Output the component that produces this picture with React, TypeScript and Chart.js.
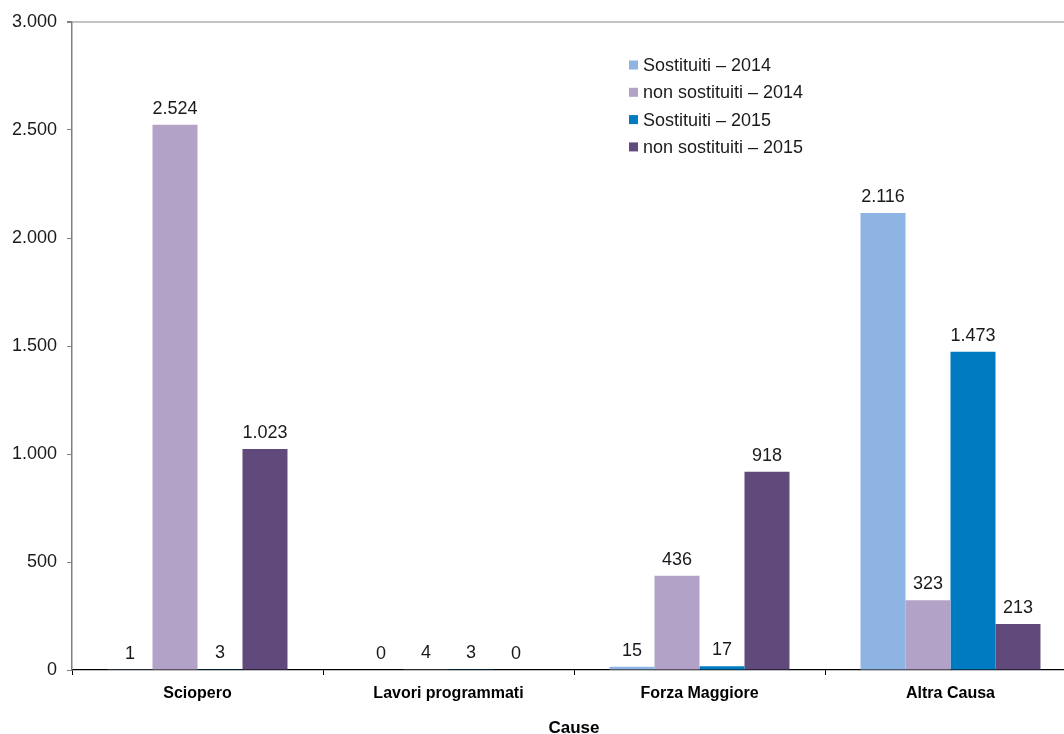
import React, { useEffect, useRef } from "react";
import { Chart, registerables } from "chart.js";

Chart.register(...registerables);

const categories = ["Sciopero", "Lavori programmati", "Forza Maggiore", "Altra Causa"];
const seriesNames = ["Sostituiti – 2014", "non sostituiti – 2014", "Sostituiti – 2015", "non sostituiti – 2015"];
const sostituiti2014 = [1, 0, 15, 2116];
const nonSostituiti2014 = [2524, 4, 436, 323];
const sostituiti2015 = [3, 3, 17, 1473];
const nonSostituiti2015 = [1023, 0, 918, 213];
const seriesColors = ["#8EB4E3", "#B3A2C7", "#007BC2", "#604A7B"];
const yTicks = [0, 500, 1000, 1500, 2000, 2500, 3000];
const axisTitle = "Cause";

const FONT = "'Liberation Sans', Arial, sans-serif";

// Italian thousands separator: 2524 -> "2.524"
function fmt(v: number): string {
  const s = Math.round(v).toString();
  return s.replace(/\B(?=(\d{3})+(?!\d))/g, ".");
}

const valueLabels = {
  id: "valueLabels",
  afterDatasetsDraw(chart: any) {
    const ctx = chart.ctx;
    ctx.save();
    ctx.font = `18px ${FONT}`;
    ctx.fillStyle = "#1a1a1a";
    ctx.textAlign = "center";
    ctx.textBaseline = "alphabetic";
    chart.data.datasets.forEach((ds: any, i: number) => {
      const meta = chart.getDatasetMeta(i);
      meta.data.forEach((el: any, j: number) => {
        ctx.fillText(fmt(ds.data[j]), el.x, el.y - 11);
      });
    });
    ctx.restore();
  },
};

const innerLegend = {
  id: "innerLegend",
  afterDraw(chart: any) {
    const ctx = chart.ctx;
    ctx.save();
    ctx.font = `18px ${FONT}`;
    ctx.textBaseline = "middle";
    ctx.textAlign = "left";
    const x0 = 629;
    const y0 = 65;
    const step = 27.3;
    chart.data.datasets.forEach((ds: any, i: number) => {
      const y = y0 + i * step;
      ctx.fillStyle = ds.backgroundColor;
      ctx.fillRect(x0, y - 4.5, 9, 9);
      ctx.fillStyle = "#1a1a1a";
      ctx.fillText(ds.label, x0 + 14, y + 1);
    });
    ctx.restore();
  },
};

export default function App() {
  const ref = useRef<HTMLCanvasElement | null>(null);

  useEffect(() => {
    if (!ref.current) return;
    const data = [sostituiti2014, nonSostituiti2014, sostituiti2015, nonSostituiti2015];
    const chart = new Chart(ref.current, {
      type: "bar",
      data: {
        labels: categories,
        datasets: data.map((d, i) => ({
          label: seriesNames[i],
          data: d,
          backgroundColor: seriesColors[i],
          borderWidth: 0,
          barPercentage: 1,
          categoryPercentage: 0.717,
        })),
      },
      options: {
        animation: false,
        responsive: false,
        devicePixelRatio: 1,
        layout: { padding: { top: 22, left: 0, right: 0, bottom: 0 } },
        plugins: {
          legend: { display: false },
          tooltip: { enabled: false },
        },
        scales: {
          x: {
            grid: {
              offset: true,
              color: "transparent",
              tickColor: "#000000",
              tickLength: 5,
            },
            border: { color: "#000000", width: 1.2 },
            ticks: {
              color: "#000000",
              font: { family: FONT, size: 16, weight: "bold" },
              padding: 9,
              maxRotation: 0,
              autoSkip: false,
            },
            title: {
              display: true,
              text: axisTitle,
              color: "#000000",
              font: { family: FONT, size: 17, weight: "bold", lineHeight: 0.7 },
              padding: 0,
            },
            afterFit(scale: any) {
              scale.height = 64;
            },
          },
          y: {
            min: 0,
            max: 3000,
            afterBuildTicks(scale: any) {
              scale.ticks = yTicks.map((v) => ({ value: v }));
            },
            grid: {
              color: (c: any) => (c.tick && c.tick.value === 3000 ? "#c4c4c4" : "transparent"),
              lineWidth: (c: any) => (c.tick && c.tick.value === 3000 ? 2 : 1),
              tickColor: "#808080",
              tickLength: 5,
            },
            border: { color: "#808080", width: 1.5 },
            ticks: {
              color: "#1a1a1a",
              font: { family: FONT, size: 18 },
              padding: 10,
              callback: (v: any) => fmt(Number(v)),
            },
            afterFit(scale: any) {
              scale.width = 72;
            },
          },
        },
      },
      plugins: [valueLabels, innerLegend],
    });
    return () => chart.destroy();
  }, []);

  return (
    <div
      style={{
        position: "fixed",
        left: 0,
        top: 0,
        width: 1064,
        height: 734,
        overflow: "hidden",
        background: "#ffffff",
      }}
    >
      <canvas ref={ref} width={1076} height={734} style={{ display: "block", width: 1076, height: 734 }} />
    </div>
  );
}
